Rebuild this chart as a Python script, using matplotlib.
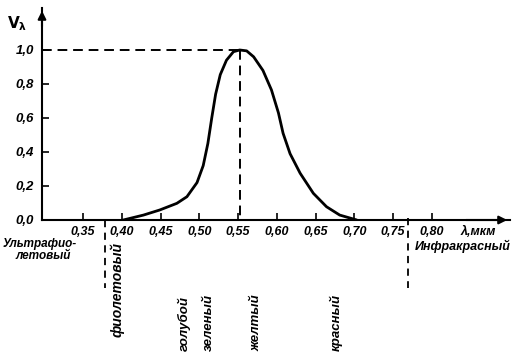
import matplotlib
matplotlib.use("Agg")
import matplotlib.pyplot as plt

# relative luminous efficiency of the eye
lam = [0.402, 0.428, 0.449, 0.471, 0.484, 0.497, 0.505, 0.511, 0.516, 0.521,
       0.527, 0.535, 0.544, 0.552, 0.561, 0.570, 0.582, 0.593, 0.602, 0.608,
       0.617, 0.630, 0.647, 0.664, 0.681, 0.703]
v = [0.0, 0.029, 0.059, 0.098, 0.137, 0.22, 0.32, 0.45, 0.60, 0.74,
     0.855, 0.94, 0.99, 1.0, 0.995, 0.96, 0.88, 0.765, 0.63, 0.51,
     0.39, 0.275, 0.157, 0.078, 0.029, 0.0]

x_ticks = [0.35, 0.40, 0.45, 0.50, 0.55, 0.60, 0.65, 0.70, 0.75, 0.80]
x_labels = ["0,35", "0,40", "0,45", "0,50", "0,55", "0,60", "0,65", "0,70", "0,75", "0,80"]
y_ticks = [0.0, 0.2, 0.4, 0.6, 0.8, 1.0]
y_labels = ["0,0", "0,2", "0,4", "0,6", "0,8", "1,0"]

peak_lam = 0.552
uv_edge = 0.378
ir_edge = 0.769
colour_names = ["голубой", "зеленый", "желтый", "красный"]
colour_lam = [0.481, 0.513, 0.574, 0.677]

W, H = 530, 357
fam = ["Liberation Sans", "DejaVu Sans"]
fs = dict(family=fam, style="italic", weight="bold", size=9)

fig = plt.figure(figsize=(W / 100, H / 100), dpi=100)
x0, x1, ytop, yax = 42, 510, 8, 220
ax = fig.add_axes([x0 / W, (H - yax) / H, (x1 - x0) / W, (yax - ytop) / H])

px_per = 349 / 0.45
lam_lo = 0.35 - (83 - x0) / px_per
lam_hi = 0.80 + (x1 - 432) / px_per
ax.set_xlim(lam_lo, lam_hi)
ax.set_ylim(0, (yax - ytop) / 170)

ax.plot(lam, v, color="black", lw=2.0, solid_joinstyle="round", solid_capstyle="round")

# dashed guides
ax.plot([lam_lo, peak_lam], [1, 1], color="black", lw=1.4, dashes=(5, 3))
ax.plot([peak_lam, peak_lam], [1, 0], color="black", lw=1.4, dashes=(5, 3))
ax.plot([uv_edge, uv_edge], [0, -0.40], color="black", lw=1.3, dashes=(4, 3), clip_on=False)
ax.plot([ir_edge, ir_edge], [0.01, -0.40], color="black", lw=1.3, dashes=(4, 3), clip_on=False)

for s in ["top", "right"]:
    ax.spines[s].set_visible(False)
for s in ["left", "bottom"]:
    ax.spines[s].set_linewidth(1.5)
ax.annotate("", xy=(1, 0), xycoords="axes fraction", xytext=(0.9, 0),
            arrowprops=dict(arrowstyle="-|>", color="black", lw=1.5, mutation_scale=12))
ax.annotate("", xy=(0, 1), xycoords="axes fraction", xytext=(0, 0.9),
            arrowprops=dict(arrowstyle="-|>", color="black", lw=1.5, mutation_scale=12))

ax.set_xticks(x_ticks)
ax.set_xticklabels(x_labels, **fs)
ax.set_yticks(y_ticks)
ax.set_yticklabels(y_labels, **dict(fs, size=9.5))
ax.tick_params(axis="x", direction="in", length=5, width=1.2, pad=4)
ax.tick_params(axis="y", direction="in", length=5, width=1.2, pad=6)


def ftext(x, y, s, **kw):
    opts = dict(fs)
    opts.update(kw)
    fig.text(x / W, 1 - y / H, s, **opts)


ftext(17, 24, r"$\mathbf{V_{\lambda}}$", ha="center", va="center", size=11, family="DejaVu Sans")
ftext(478, 232, "λ,мкм", ha="center", va="center")
ftext(463, 246, "Инфракрасный", ha="center", va="center")
ftext(40, 244, "Ультрафио-", ha="center", va="center", size=8.5)
ftext(43, 256, "летовый", ha="center", va="center", size=8.5)

for name, wl in zip(colour_names, colour_lam):
    ax.text(wl, -0.77, name, rotation=90, ha="center", va="bottom", clip_on=False,
            **dict(fs, size=9.5))
ax.text(0.394, -0.13, "фиолетовый", rotation=90, ha="center", va="top", clip_on=False,
        **dict(fs, size=10))

fig.savefig("out.png", dpi=100)
